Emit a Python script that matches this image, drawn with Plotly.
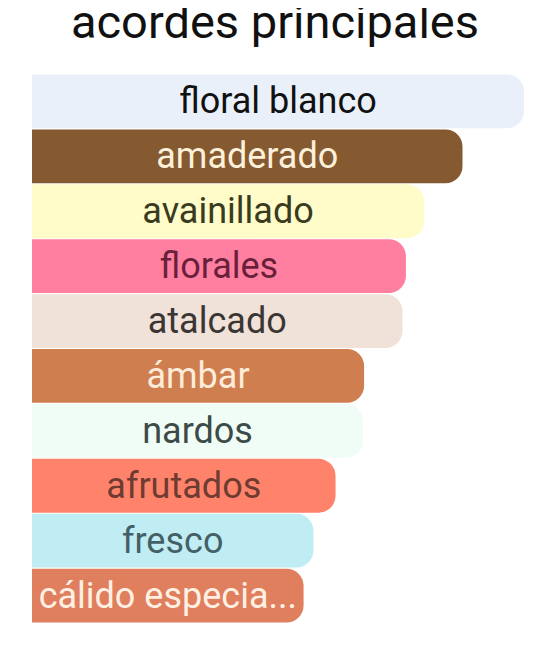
# Main accords chart - horizontal rounded bars with the accord name inside
import plotly.graph_objects as go

# accord names, top to bottom
accords = ["floral blanco", "amaderado", "avainillado", "florales", "atalcado",
           "ámbar", "nardos", "afrutados", "fresco", "cálido especia..."]
# relative strength (largest = 100)
strength = [100, 87.5, 79.7, 76.0, 75.3, 67.5, 67.3, 61.7, 57.2, 55.2]

bar_colors = ["#EAF0FA", "#865A30", "#FFFCC9", "#FF7FA1", "#F0E2D9",
              "#CF7E50", "#F0FCF6", "#FF836A", "#BFEDF3", "#E07F5E"]
text_colors = ["#111111", "#FDF1DC", "#3A3A1F", "#6A1F3A", "#3B3633",
               "#FDECD9", "#3C4A48", "#6E3B32", "#455F66", "#FFF0E3"]

fig = go.Figure(go.Bar(
    x=strength, y=accords, orientation="h",
    text=accords, textposition="inside", insidetextanchor="middle",
    textfont=dict(family="Roboto", size=36, color=text_colors),
    marker=dict(color=bar_colors, line_width=0),
    hoverinfo="skip",
))

# the page body has an 8px margin, so the figure sits 8px in from the corner
fig.update_layout(
    width=534, height=658,
    margin=dict(l=24, r=18, t=66, b=43),
    paper_bgcolor="white", plot_bgcolor="white",
    title=dict(text="acordes principales", x=0.5, xanchor="center",
               y=0.98, yref="container", yanchor="middle",
               font=dict(family="Roboto", size=47, color="#111111")),
    barcornerradius=17, bargap=0.02,
    uniformtext=dict(minsize=36, mode="show"),
    showlegend=False,
)
fig.update_xaxes(range=[0, 100], visible=False, showgrid=False)
fig.update_yaxes(autorange="reversed", visible=False, showgrid=False)

fig.write_html("out.html")
